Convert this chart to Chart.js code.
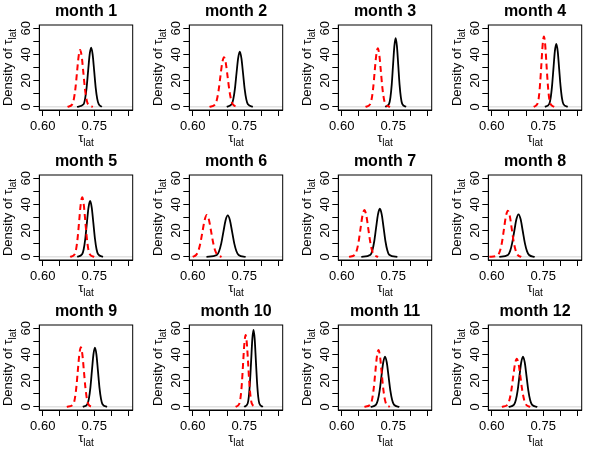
<!DOCTYPE html>
<html><head><meta charset="utf-8">
<script src="https://cdn.jsdelivr.net/npm/chart.js@4"></script>
<style>
html,body{margin:0;padding:0;background:#fff;}
#wrap{position:relative;width:598px;height:458px;overflow:hidden;}
.cell{position:absolute;width:150px;height:150px;}
</style></head><body><div id="wrap"></div>
<script>
const panelTitles = ["month 1","month 2","month 3","month 4","month 5","month 6","month 7","month 8","month 9","month 10","month 11","month 12"];
const xTicks = [0.60,0.65,0.70,0.75,0.80,0.85];
const xTickLabels = ["0.60","","","0.75","",""];
const yTicks = [0,10,20,30,40,50,60];
const yTickLabels = ["0","","20","","40","","60"];
const xRange = [0.59,0.862];
const yRange = [-2.4,62.4];

// dashed (red) density curves, [tau, density]
const dashed1 = [[.6722,0],[.6860,1.9],[.6906,5.9],[.6952,14.1],[.6998,26.3],[.7044,38.3],[.7090,43.4],[.7136,38.3],[.7182,26.3],[.7228,14.1],[.7274,5.9],[.7320,1.9],[.7458,0]];
const dashed2 = [[.6488,0],[.6646,1.7],[.6699,5.1],[.6752,12.3],[.6804,22.9],[.6857,33.3],[.6910,37.8],[.6963,33.3],[.7016,22.9],[.7068,12.3],[.7121,5.1],[.7174,1.7],[.7332,0]];
const dashed3 = [[.6692,0],[.6826,2.0],[.6871,6.0],[.6916,14.5],[.6960,27.1],[.7005,39.3],[.7050,44.6],[.7095,39.3],[.7140,27.1],[.7184,14.5],[.7229,6.0],[.7274,2.0],[.7408,0]];
const dashed4 = [[.7222,0],[.7334,2.4],[.7371,7.2],[.7408,17.4],[.7446,32.5],[.7483,47.3],[.7520,53.6],[.7557,47.3],[.7594,32.5],[.7632,17.4],[.7669,7.2],[.7706,2.4],[.7818,0]];
const dashed5 = [[.6798,0],[.6930,2.0],[.6974,6.1],[.7018,14.8],[.7062,27.6],[.7106,40.0],[.7150,45.4],[.7194,40.0],[.7238,27.6],[.7282,14.8],[.7326,6.1],[.7370,2.0],[.7502,0]];
const dashed6 = [[.6000,0],[.6097,1.4],[.6160,4.3],[.6222,10.4],[.6285,19.4],[.6347,28.1],[.6410,31.9],[.6473,28.1],[.6535,19.4],[.6598,10.4],[.6660,4.3],[.6723,1.4],[.6840,0]];
const dashed7 = [[.6213,0],[.6380,1.6],[.6436,4.8],[.6492,11.6],[.6548,21.7],[.6604,31.5],[.6660,35.7],[.6716,31.5],[.6772,21.7],[.6828,11.6],[.6884,4.8],[.6940,1.6],[.7060,0]];
const dashed8 = [[.5930,0],[.6187,1.5],[.6243,4.8],[.6300,11.4],[.6357,21.4],[.6413,31.0],[.6470,35.2],[.6527,31.0],[.6583,21.4],[.6640,11.4],[.6697,4.8],[.6753,1.5],[.6860,0]];
const dashed9 = [[.6700,0],[.6890,2.0],[.6934,6.1],[.6978,14.8],[.7022,27.6],[.7066,40.0],[.7110,45.4],[.7154,40.0],[.7198,27.6],[.7242,14.8],[.7286,6.1],[.7330,2.0],[.7420,0]];
const dashed10 = [[.7249,0],[.7358,2.4],[.7394,7.4],[.7431,17.8],[.7467,33.3],[.7504,48.3],[.7540,54.8],[.7576,48.3],[.7613,33.3],[.7649,17.8],[.7686,7.4],[.7722,2.4],[.7831,0]];
const dashed11 = [[.6660,0],[.6840,1.9],[.6886,5.9],[.6932,14.1],[.6978,26.3],[.7024,38.3],[.7070,43.4],[.7116,38.3],[.7162,26.3],[.7208,14.1],[.7254,5.9],[.7300,1.9],[.7400,0]];
const dashed12 = [[.6295,0],[.6458,1.6],[.6513,5.0],[.6567,11.9],[.6621,22.3],[.6676,32.4],[.6730,36.7],[.6784,32.4],[.6839,22.3],[.6893,11.9],[.6947,5.0],[.7002,1.6],[.7120,0]];

// solid (black) density curves, [tau, density]
const solid1 = [[.7000,0],[.7189,2.0],[.7233,6.1],[.7278,14.7],[.7322,27.4],[.7366,39.9],[.7410,45.2],[.7454,39.9],[.7498,27.4],[.7542,14.7],[.7587,6.1],[.7631,2.0],[.7720,0]];
const solid2 = [[.6991,0],[.7133,1.9],[.7180,5.7],[.7228,13.7],[.7275,25.6],[.7323,37.1],[.7370,42.1],[.7417,37.1],[.7465,25.6],[.7512,13.7],[.7560,5.7],[.7607,1.9],[.7749,0]];
const solid3 = [[.7265,0],[.7379,2.3],[.7417,7.1],[.7456,17.0],[.7494,31.7],[.7532,46.1],[.7570,52.3],[.7608,46.1],[.7646,31.7],[.7684,17.0],[.7723,7.1],[.7761,2.3],[.7875,0]];
const solid4 = [[.7548,0],[.7672,2.1],[.7714,6.5],[.7755,15.6],[.7797,29.1],[.7838,42.3],[.7880,48.0],[.7922,42.3],[.7963,29.1],[.8005,15.6],[.8046,6.5],[.8088,2.1],[.8212,0]];
const solid5 = [[.7005,0],[.7146,1.9],[.7193,5.8],[.7239,13.8],[.7286,25.9],[.7333,37.6],[.7380,42.6],[.7427,37.6],[.7474,25.9],[.7521,13.8],[.7567,5.8],[.7614,1.9],[.7755,0]];
const solid6 = [[.6400,0],[.6704,1.4],[.6767,4.3],[.6831,10.3],[.6894,19.2],[.6957,27.9],[.7020,31.6],[.7083,27.9],[.7146,19.2],[.7209,10.3],[.7273,4.3],[.7336,1.4],[.7540,0]];
const solid7 = [[.6570,0],[.6838,1.6],[.6893,5.0],[.6947,11.9],[.7001,22.3],[.7056,32.4],[.7110,36.7],[.7164,32.4],[.7219,22.3],[.7273,11.9],[.7327,5.0],[.7382,1.6],[.7620,0]];
const solid8 = [[.6220,0],[.6472,1.4],[.6534,4.4],[.6595,10.5],[.6657,19.7],[.6718,28.6],[.6780,32.4],[.6842,28.6],[.6903,19.7],[.6965,10.5],[.7026,4.4],[.7088,1.4],[.7250,0]];
const solid9 = [[.7167,0],[.7299,2.0],[.7343,6.1],[.7388,14.7],[.7432,27.4],[.7476,39.9],[.7520,45.2],[.7564,39.9],[.7608,27.4],[.7652,14.7],[.7697,6.1],[.7741,2.0],[.7873,0]];
const solid10 = [[.7498,0],[.7600,2.6],[.7634,7.9],[.7668,19.1],[.7702,35.6],[.7736,51.8],[.7770,58.7],[.7804,51.8],[.7838,35.6],[.7872,19.1],[.7906,7.9],[.7940,2.6],[.8042,0]];
const solid11 = [[.6843,0],[.7000,1.7],[.7052,5.2],[.7104,12.4],[.7156,23.2],[.7208,33.8],[.7260,38.3],[.7312,33.8],[.7364,23.2],[.7416,12.4],[.7468,5.2],[.7520,1.7],[.7677,0]];
const solid12 = [[.6493,0],[.6650,1.7],[.6702,5.2],[.6754,12.4],[.6806,23.2],[.6858,33.8],[.6910,38.3],[.6962,33.8],[.7014,23.2],[.7066,12.4],[.7118,5.2],[.7170,1.7],[.7327,0]];

const dashedCurves = [dashed1,dashed2,dashed3,dashed4,dashed5,dashed6,dashed7,dashed8,dashed9,dashed10,dashed11,dashed12];
const solidCurves = [solid1,solid2,solid3,solid4,solid5,solid6,solid7,solid8,solid9,solid10,solid11,solid12];

const FONT = '"Liberation Sans", Arial, Helvetica, sans-serif';
const CW = 150, CH = 150;
const AREA = {left:39.3, right:132.7, top:25, bottom:110};

function drawTauLabel(ctx, cx, baseY, prefix){
  const main = prefix + '\u03C4', sub = 'lat';
  ctx.font = '13px ' + FONT; const w1 = ctx.measureText(main).width;
  ctx.font = '10px ' + FONT; const w2 = ctx.measureText(sub).width;
  const x = cx - (w1 + w2) / 2;
  ctx.fillStyle = '#000'; ctx.textAlign = 'left'; ctx.textBaseline = 'alphabetic';
  ctx.font = '13px ' + FONT; ctx.fillText(main, x, baseY);
  ctx.font = '10px ' + FONT; ctx.fillText(sub, x + w1, baseY + 4);
}

const framePlugin = {
  id: 'frame',
  beforeDatasetsDraw(chart){
    const {ctx, chartArea:a, scales:{y}} = chart;
    const py = y.getPixelForValue(0);
    ctx.save(); ctx.strokeStyle = '#c8c8c8'; ctx.lineWidth = 0.8;
    ctx.beginPath(); ctx.moveTo(a.left, py); ctx.lineTo(a.right, py); ctx.stroke(); ctx.restore();
  },
  afterDraw(chart){
    const {ctx, chartArea:a} = chart;
    ctx.save();
    ctx.strokeStyle = '#000'; ctx.lineWidth = 1;
    ctx.strokeRect(a.left, a.top, a.right - a.left, a.bottom - a.top);
    drawTauLabel(ctx, (a.left + a.right) / 2, 142, '');
    ctx.translate(11.5, (a.top + a.bottom) / 2);
    ctx.rotate(-Math.PI / 2);
    drawTauLabel(ctx, 0, 0, 'Density of ');
    ctx.restore();
  }
};

const wrap = document.getElementById('wrap');
panelTitles.forEach((title, i) => {
  const col = i % 4, row = Math.floor(i / 4);
  const div = document.createElement('div');
  div.className = 'cell';
  div.style.left = Math.round(col * 149.5) + 'px';
  div.style.top = (row * 150) + 'px';
  const cv = document.createElement('canvas');
  cv.width = CW; cv.height = CH;
  div.appendChild(cv); wrap.appendChild(div);
  new Chart(cv, {
    type: 'line',
    data: {
      datasets: [
        {data: dashedCurves[i].map(p => ({x:p[0], y:p[1]})), borderColor:'#ff0000', borderWidth:2, borderDash:[6,4], pointRadius:0, cubicInterpolationMode:'monotone', fill:false},
        {data: solidCurves[i].map(p => ({x:p[0], y:p[1]})), borderColor:'#000000', borderWidth:1.8, pointRadius:0, cubicInterpolationMode:'monotone', fill:false}
      ]
    },
    options: {
      responsive: false, animation: false, devicePixelRatio: 1,
      layout: {padding: {left:0, top:0, bottom:0, right: CW - AREA.right}},
      plugins: {
        legend: {display:false}, tooltip: {enabled:false},
        title: {display:true, text:title, fullSize:false, color:'#000',
          font:{family:FONT, size:16, weight:'bold'}, padding:{top:2.4, bottom:25 - 2.4 - 19.2}}
      },
      scales: {
        x: {type:'linear', min:xRange[0], max:xRange[1],
          afterBuildTicks: s => { s.ticks = xTicks.map(v => ({value:v})); },
          afterFit: s => { s.height = CH - AREA.bottom; },
          ticks: {autoSkip:false, maxRotation:0, minRotation:0, padding:2.5, color:'#000',
            font:{family:FONT, size:13}, callback:(v, idx) => xTickLabels[idx]},
          grid: {display:true, drawOnChartArea:false, drawTicks:true, tickLength:6, color:'#000', lineWidth:1},
          border: {display:true, color:'#000', width:1}
        },
        y: {type:'linear', min:yRange[0], max:yRange[1],
          afterBuildTicks: s => { s.ticks = yTicks.map(v => ({value:v})); },
          afterFit: s => { s.width = AREA.left; },
          ticks: {autoSkip:false, minRotation:90, maxRotation:90, crossAlign:'center', padding:0, color:'#000',
            font:{family:FONT, size:13}, callback:(v, idx) => yTickLabels[idx]},
          grid: {display:true, drawOnChartArea:false, drawTicks:true, tickLength:6, color:'#000', lineWidth:1},
          border: {display:true, color:'#000', width:1}
        }
      }
    },
    plugins: [framePlugin]
  });
});
</script></body></html>
